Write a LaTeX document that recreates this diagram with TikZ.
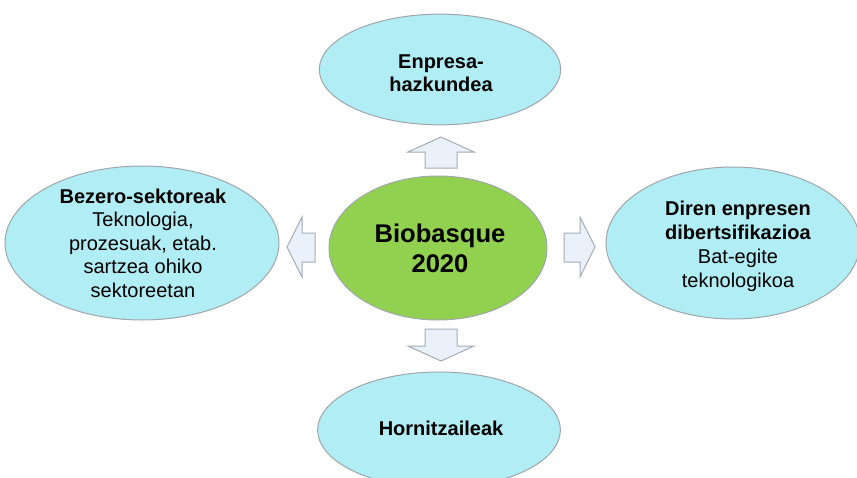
\documentclass[tikz,border=0pt]{standalone}
\usepackage{fontspec}
\setmainfont{Liberation Sans}
\usetikzlibrary{shapes.geometric}

\definecolor{bubblecyan}{RGB}{176,237,244}
\definecolor{bubbleline}{RGB}{160,166,172}
\definecolor{corelime}{RGB}{146,208,80}
\definecolor{arrowfill}{RGB}{234,241,251}
\definecolor{arrowline}{RGB}{165,172,181}

\begin{document}
\begin{tikzpicture}[x=0.75pt, y=-0.75pt,
		bubble/.style={ellipse, draw=bubbleline, line width=0.75pt, fill=bubblecyan, inner sep=0pt},
		core/.style={ellipse, draw=bubbleline, line width=0.75pt, fill=corelime, inner sep=0pt},
		label/.style={align=center, inner sep=0pt, font=\fontsize{15}{17.6}\selectfont},
		biglabel/.style={align=center, inner sep=0pt, font=\fontsize{19.2}{22.5}\selectfont\bfseries},
		blockarrow/.style={draw=arrowline, line width=0.75pt, fill=arrowfill, line join=miter}]
			\useasboundingbox (0,0) rectangle (857,478);
			
			% Outer bubbles
			\node[bubble, minimum width=181pt, minimum height=83pt] (growth) at (440,69.5) {};
			\node[bubble, minimum width=205.5pt, minimum height=115.5pt] (clients) at (142,243) {};
			\node[bubble, minimum width=190.5pt, minimum height=114pt] (diversif) at (733,243) {};
			\node[bubble, minimum width=182pt, minimum height=87pt] (suppliers) at (439,430) {};
			
			% Central bubble
			\node[core, minimum width=163.5pt, minimum height=108pt] (biobasque) at (438,248) {};
			
			% Texts
			\node[label, font=\fontsize{15}{17.3}\selectfont\bfseries] (growthtxt) at (441,73) {Enpresa-\\hazkundea};
			\node[label] (clientstxt) at (143,243) {\textbf{Bezero-sektoreak}\\Teknologia,\\prozesuak, etab.\\sartzea ohiko\\sektoreetan};
			\node[label, font=\fontsize{15}{18}\selectfont] (diversiftxt) at (738,246) {\textbf{Diren enpresen}\\\textbf{dibertsifikazioa}\\Bat-egite\\teknologikoa};
			\node[label, font=\fontsize{15}{17.6}\selectfont\bfseries] (supplierstxt) at (441,428) {Hornitzaileak};
			\node[biglabel] (biobasquetxt) at (440,248) {Biobasque\\2020};
			
			% Block arrows
			\draw[blockarrow] (441,137) -- (474,152) -- (457,152) -- (457,168) -- (425,168) -- (425,152) -- (408,152) -- cycle;
			\draw[blockarrow] (425,329) -- (457,329) -- (457,346) -- (474,346) -- (441,361) -- (408,346) -- (425,346) -- cycle;
			\draw[blockarrow] (287,247) -- (302,217) -- (302,233) -- (315,233) -- (315,262) -- (302,262) -- (302,277) -- cycle;
			\draw[blockarrow] (564,233) -- (580,233) -- (580,217) -- (595,247) -- (580,277) -- (580,262) -- (564,262) -- cycle;
		\end{tikzpicture}
\end{document}
